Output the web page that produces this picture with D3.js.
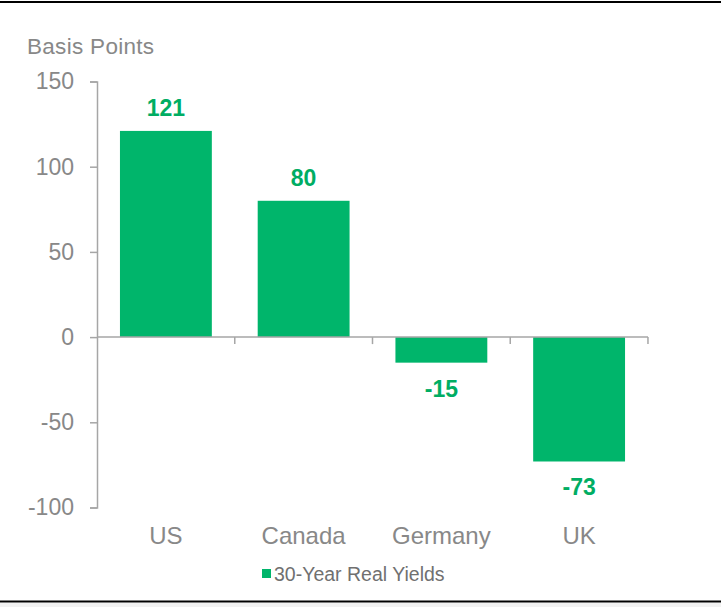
<html>
<head>
<script src="https://d3js.org/d3.v7.min.js" charset="utf-8"></script>
<style>
body { margin: 0; background: #fff; font-family: "Liberation Sans", Arial, sans-serif; }
svg { display: block; }
</style>
</head>
<body>
<div id="canvas"></div>
<script>
// data
var countries = ["US", "Canada", "Germany", "UK"];
var yields = [121, 80, -15, -73];
var yTicks = [150, 100, 50, 0, -50, -100];
var seriesName = "30-Year Real Yields";

var green = "#00b56b", labelGreen = "#00ad63", axisGrey = "#a6a6a6", textGrey = "#888888";

var svg = d3.select("#canvas").append("svg").attr("width", 721).attr("height", 607);

// frame lines top and bottom
svg.append("rect").attr("x", 0).attr("y", 603).attr("width", 721).attr("height", 4).attr("fill", "#f2f2f2");
svg.append("line").attr("x1", 0).attr("x2", 721).attr("y1", 2).attr("y2", 2)
	.attr("stroke", "#000").attr("stroke-width", 2);
svg.append("line").attr("x1", 0).attr("x2", 721).attr("y1", 601.5).attr("y2", 601.5)
	.attr("stroke", "#000").attr("stroke-width", 2);

var y = d3.scaleLinear().domain([-100, 150]).range([507.5, 81.5]);
var x = d3.scaleBand().domain(countries).range([97, 648]).paddingInner(0.333).paddingOuter(0.1667);

// y axis title
svg.append("text").attr("x", 27).attr("y", 54)
	.attr("font-size", 22.5).attr("letter-spacing", 0.3).attr("fill", textGrey)
	.text("Basis Points");

// bars
svg.selectAll(".bar").data(yields).enter().append("rect")
	.attr("class", "bar")
	.attr("x", function(d, i){ return x(countries[i]); })
	.attr("width", x.bandwidth())
	.attr("y", function(d){ return y(Math.max(0, d)); })
	.attr("height", function(d){ return Math.abs(y(d) - y(0)); })
	.attr("fill", green);

// value labels
svg.selectAll(".val").data(yields).enter().append("text")
	.attr("class", "val")
	.attr("x", function(d, i){ return x(countries[i]) + x.bandwidth() / 2; })
	.attr("y", function(d){ return d >= 0 ? y(d) - 15 : y(d) + 34; })
	.attr("text-anchor", "middle")
	.attr("font-size", 23).attr("font-weight", "bold").attr("fill", labelGreen)
	.text(function(d){ return d; });

// y axis (plain hyphen for negatives, like the original)
var yAxis = svg.append("g").attr("transform", "translate(97,0)")
	.call(d3.axisLeft(y).tickValues(yTicks).tickSize(7).tickPadding(16)
		.tickFormat(function(d){ return String(d); }));
yAxis.select(".domain").attr("stroke", axisGrey).attr("stroke-width", 1.5);
yAxis.selectAll(".tick line").attr("stroke", axisGrey).attr("stroke-width", 1.5);
yAxis.selectAll(".tick text").attr("fill", textGrey).attr("font-size", 23)
	.attr("font-family", "Liberation Sans, Arial, sans-serif");

// x axis along zero, with ticks between categories
svg.append("line").attr("x1", 97).attr("x2", 648).attr("y1", y(0)).attr("y2", y(0))
	.attr("stroke", axisGrey).attr("stroke-width", 1.5);
svg.selectAll(".xtick").data(countries).enter().append("line")
	.attr("class", "xtick")
	.attr("x1", function(d){ return x(d) + x.bandwidth() + x.step() * x.paddingInner() / 2; })
	.attr("x2", function(d){ return x(d) + x.bandwidth() + x.step() * x.paddingInner() / 2; })
	.attr("y1", y(0)).attr("y2", y(0) + 7)
	.attr("stroke", axisGrey).attr("stroke-width", 1.5);

// category labels at the bottom
svg.selectAll(".cat").data(countries).enter().append("text")
	.attr("class", "cat")
	.attr("x", function(d){ return x(d) + x.bandwidth() / 2; })
	.attr("y", 544)
	.attr("text-anchor", "middle")
	.attr("font-size", 24).attr("fill", textGrey)
	.text(function(d){ return d; });

// legend
svg.append("rect").attr("x", 262).attr("y", 569).attr("width", 9).attr("height", 9).attr("fill", green);
svg.append("text").attr("x", 274).attr("y", 581)
	.attr("font-size", 19.5).attr("fill", "#707070")
	.text(seriesName);
</script>
</body>
</html>
